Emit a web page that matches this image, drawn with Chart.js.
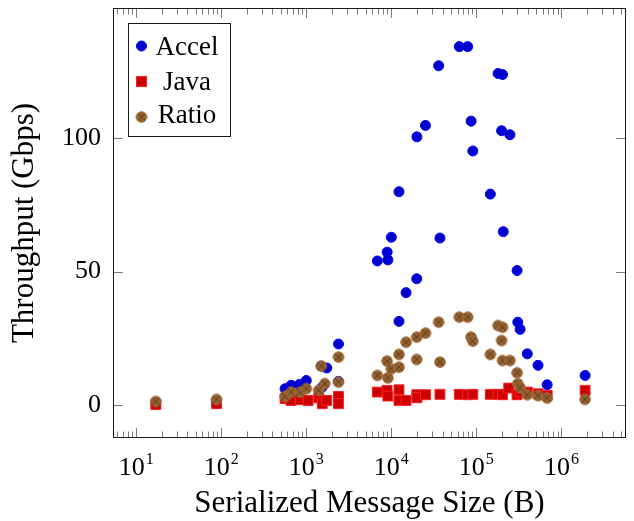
<!DOCTYPE html>
<html>
<head>
<meta charset="utf-8">
<script src="https://cdn.jsdelivr.net/npm/chart.js@4.4.1/dist/chart.umd.min.js"></script>
<style>
  html, body { margin: 0; padding: 0; background: #fff; }
  #wrap { width: 634px; height: 521px; }
</style>
</head>
<body>
<div id="wrap"><canvas id="chart"></canvas></div>
<script>
// message sizes (B) and throughput (Gbps)
const accelSize = [17, 88, 563, 663, 826, 1000, 1500, 1540, 1740, 2390, 2390,
  6850, 8930, 9100, 10000, 12300, 12300, 14900, 19900, 20000, 25200, 36000, 37300,
  63000, 79000, 86700, 90800, 146000, 180000, 198000, 203000, 207000, 248000,
  301000, 307000, 327000, 397000, 531000, 680000, 1900000];
const accelTp = [0.2, 0.5, 6.0, 7.3, 7.6, 9.1, 14.5, 6.6, 13.8, 22.8, 8.8,
  54.0, 57.3, 54.4, 62.9, 80.0, 31.3, 42.1, 47.3, 100.6, 104.9, 127.3, 62.6,
  134.5, 134.5, 106.5, 95.3, 79.1, 124.4, 102.9, 124.0, 65.0, 101.4,
  50.4, 31.0, 28.3, 19.1, 14.8, 7.5, 11.0];

const javaSize = [17, 88, 563, 663, 850, 1050, 1400, 1540, 1740, 2390, 2390,
  6850, 8900, 9100, 12300, 12300, 14900, 19900, 20000, 25200, 37300,
  63000, 79000, 90800, 146000, 180000, 203000, 240000, 301000, 327000,
  397000, 531000, 680000, 1900000];
const javaTp = [0.1, 0.4, 2.3, 1.6, 1.9, 1.6, 2.6, 0.4, 1.6, 3.1, 0.4,
  4.75, 5.4, 3.25, 5.6, 1.6, 1.6, 3.75, 2.6, 3.75, 3.9,
  3.9, 3.75, 3.9, 3.9, 3.9, 3.75, 6.25, 3.75, 4.75,
  4.75, 4.1, 3.5, 5.4];

const ratioSize = [17, 88, 563, 663, 850, 1000, 1400, 1500, 1650, 2390, 2390,
  6850, 8900, 9100, 10000, 12300, 12300, 14900, 19900, 19900, 25200, 36000, 37300,
  63000, 79000, 86700, 90800, 146000, 180000, 203000, 198000, 203000, 248000,
  301000, 307000, 327000, 397000, 531000, 680000, 1900000];
const ratioVal = [1.25, 2.0, 3.1, 4.75, 4.75, 6.0, 5.4, 14.5, 7.9, 17.9, 8.5,
  11.0, 16.4, 10.1, 13.5, 18.9, 14.1, 23.5, 25.4, 17.0, 26.9, 31.0, 16.0,
  32.9, 32.9, 25.4, 23.9, 18.9, 29.75, 29.1, 24.1, 16.6, 16.6,
  12.0, 7.9, 6.4, 3.75, 3.4, 2.5, 2.0];

const xExponents = [1, 2, 3, 4, 5, 6];
const yTicks = [0, 50, 100];
const seriesNames = ['Accel', 'Java', 'Ratio'];

const SERIF = "'Liberation Serif', 'DejaVu Serif', serif";

function pairs(xs, ys) {
  return xs.map((v, i) => ({ x: v, y: ys[i] }));
}

// pgfplots "otimes*" style marker
function otimesMarker() {
  const c = document.createElement('canvas');
  c.width = 14; c.height = 14;
  const g = c.getContext('2d');
  g.beginPath();
  g.arc(7, 7, 5.3, 0, Math.PI * 2);
  g.fillStyle = '#93602f';
  g.fill();
  g.lineWidth = 1;
  g.strokeStyle = '#a36c3a';
  g.stroke();
  const d = 5.3 * Math.SQRT1_2;
  g.beginPath();
  g.moveTo(7 - d, 7 - d); g.lineTo(7 + d, 7 + d);
  g.moveTo(7 + d, 7 - d); g.lineTo(7 - d, 7 + d);
  g.strokeStyle = '#5e3d1f';
  g.lineWidth = 0.9;
  g.stroke();
  return c;
}
const ratioMark = otimesMarker();

const axisDecor = {
  id: 'axisDecor',
  afterDraw(chart) {
    const { ctx, chartArea: a, scales: { x, y } } = chart;
    ctx.save();

    // inward ticks, like pgfplots
    ctx.strokeStyle = '#7a7a7a';
    ctx.lineWidth = 1;
    ctx.beginPath();
    for (let k = 0; k <= 7; k++) {
      for (let m = 1; m <= 9; m++) {
        const v = m * Math.pow(10, k);
        if (v < x.min || v > x.max) continue;
        const px = Math.round(x.getPixelForValue(v)) + 0.5;
        const len = m === 1 ? 10 : 6.5;
        ctx.moveTo(px, a.bottom); ctx.lineTo(px, a.bottom - len);
        ctx.moveTo(px, a.top); ctx.lineTo(px, a.top + len);
      }
    }
    yTicks.forEach(v => {
      const py = Math.round(y.getPixelForValue(v)) + 0.5;
      ctx.moveTo(a.left, py); ctx.lineTo(a.left + 10, py);
      ctx.moveTo(a.right, py); ctx.lineTo(a.right - 10, py);
    });
    ctx.stroke();

    // frame
    ctx.strokeStyle = '#1a1a1a';
    ctx.strokeRect(a.left + 0.5, a.top + 0.5, a.right - a.left - 1, a.bottom - a.top - 1);

    // x tick labels 10^k
    ctx.fillStyle = '#000';
    ctx.textBaseline = 'alphabetic';
    ctx.textAlign = 'left';
    xExponents.forEach(k => {
      const px = x.getPixelForValue(Math.pow(10, k));
      ctx.font = '26px ' + SERIF;
      const wb = ctx.measureText('10').width;
      ctx.font = '16px ' + SERIF;
      const we = ctx.measureText(String(k)).width;
      const left = px - (wb + we + 1) / 2;
      ctx.font = '26px ' + SERIF;
      ctx.fillText('10', left, 474.5);
      ctx.font = '16px ' + SERIF;
      ctx.fillText(String(k), left + wb + 1, 464);
    });

    // legend box
    const bx = 128.5, by = 23.5, bw = 102, bh = 113;
    ctx.fillStyle = '#fff';
    ctx.fillRect(bx, by, bw, bh);
    ctx.strokeStyle = '#1a1a1a';
    ctx.strokeRect(bx, by, bw, bh);
    const rows = [46, 81.5, 117];
    const mx = 141.5;
    ctx.beginPath();
    ctx.arc(mx, rows[0], 5, 0, Math.PI * 2);
    ctx.fillStyle = '#0000cc'; ctx.fill();
    ctx.strokeStyle = '#0000ff'; ctx.stroke();
    ctx.fillStyle = '#cc0000';
    ctx.fillRect(mx - 5, rows[1] - 5, 10, 10);
    ctx.strokeStyle = '#ff2020';
    ctx.strokeRect(mx - 5, rows[1] - 5, 10, 10);
    ctx.drawImage(ratioMark, mx - 7, rows[2] - 7);

    ctx.fillStyle = '#000';
    ctx.font = '27px ' + SERIF;
    ctx.textAlign = 'center';
    const base = [54.5, 89.5, 122.5];
    seriesNames.forEach((n, i) => ctx.fillText(n, 187, base[i]));
    ctx.restore();
  }
};

new Chart(document.getElementById('chart'), {
  type: 'scatter',
  data: {
    datasets: [
      { label: 'Accel', data: pairs(accelSize, accelTp), order: 3,
        pointStyle: 'circle', pointRadius: 5, borderWidth: 1,
        backgroundColor: '#0000cc', borderColor: '#0000ff' },
      { label: 'Java', data: pairs(javaSize, javaTp), order: 2,
        pointStyle: 'rect', pointRadius: 7, borderWidth: 1,
        backgroundColor: '#cc0000', borderColor: '#ff2020' },
      { label: 'Ratio', data: pairs(ratioSize, ratioVal), order: 1,
        pointStyle: ratioMark, pointRadius: 6 }
    ]
  },
  options: {
    responsive: true,
    maintainAspectRatio: false,
    animation: false,
    layout: { padding: { top: 8, right: 4, left: 0, bottom: 0 } },
    plugins: { legend: { display: false }, tooltip: { enabled: false } },
    scales: {
      x: {
        type: 'logarithmic',
        min: 5.33, max: 5.75e6,
        afterFit: s => { s.height = 83; s.paddingLeft = 0; s.paddingRight = 0; },
        afterBuildTicks: s => { s.ticks = xExponents.map(k => ({ value: Math.pow(10, k) })); },
        ticks: { display: false },
        grid: { display: false, drawTicks: false },
        border: { display: false },
        title: { display: true, text: 'Serialized Message Size (B)', color: '#000',
          font: { family: SERIF, size: 31, lineHeight: 1 }, padding: { top: 0, bottom: 1.6 } }
      },
      y: {
        min: -12.5, max: 149,
        afterFit: s => { s.width = 113; s.paddingTop = 0; s.paddingBottom = 0; },
        afterBuildTicks: s => { s.ticks = yTicks.map(v => ({ value: v })); },
        ticks: { color: '#000', font: { family: SERIF, size: 26 }, padding: 12 },
        grid: { display: false, drawTicks: false },
        border: { display: false },
        title: { display: true, text: 'Throughput (Gbps)', color: '#000',
          font: { family: SERIF, size: 31, lineHeight: 1 }, padding: { top: 9.4, bottom: 0 } }
      }
    }
  },
  plugins: [axisDecor]
});
</script>
</body>
</html>
